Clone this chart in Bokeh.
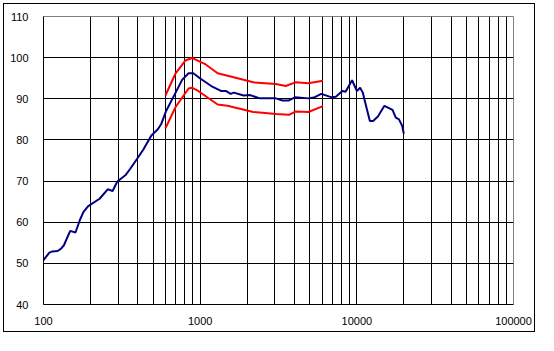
from bokeh.plotting import figure
from bokeh.models import Range1d, FixedTicker, PrintfTickFormatter
from bokeh.embed import file_html
from bokeh.resources import INLINE

# Blue response curve (frequency Hz, dB)
blue_freq = [100, 109, 114, 123, 129, 135, 148, 160, 171, 180, 193, 228, 257, 276, 296, 333, 358, 394, 433,
             488, 537, 563, 604, 697, 767, 843, 905, 996, 1177, 1357, 1458, 1566, 1641, 1893, 2084, 2403,
             3045, 3351, 3687, 4053, 4906, 5390, 5931, 6842, 7346, 8084, 8475, 9325, 10014, 10498, 10910,
             11550, 12110, 12694, 13632, 15002, 16890, 17730, 18580, 19480, 19960]
blue_db = [50.8, 52.6, 52.9, 53.0, 53.5, 54.4, 57.9, 57.5, 60.6, 62.5, 63.9, 65.7, 68.0, 67.6, 69.9, 71.4, 73.0,
           75.3, 77.6, 81.1, 82.6, 83.8, 86.9, 91.5, 94.6, 96.2, 96.2, 95.0, 93.1, 91.9, 91.9, 91.2, 91.5, 90.8,
           90.9, 90.1, 90.1, 89.6, 89.6, 90.4, 90.1, 90.4, 91.2, 90.4, 90.5, 91.9, 91.7, 94.5, 91.9, 92.7, 91.5,
           87.7, 84.6, 84.6, 85.7, 88.3, 87.3, 85.4, 85.0, 83.4, 81.5]

# Red upper tolerance
upper_freq = [600, 697, 804, 885, 927, 1069, 1293, 1566, 2183, 3045, 3513, 4053, 4906, 6075]
upper_db = [90.8, 96.2, 99.3, 99.9, 99.6, 98.5, 96.2, 95.4, 94.0, 93.6, 93.1, 94.0, 93.8, 94.4]

# Red lower tolerance
lower_freq = [600, 697, 843, 885, 972, 1293, 1492, 2183, 3045, 3687, 4053, 4906, 6075]
lower_db = [82.8, 88.0, 92.5, 92.7, 91.9, 88.6, 88.3, 86.8, 86.3, 86.1, 86.9, 86.8, 88.2]

x_ticks = [100, 1000, 10000, 100000]
y_ticks = [40, 50, 60, 70, 80, 90, 100, 110]
x_grid = [m * d for d in (100, 1000, 10000) for m in range(1, 10) if not (m == 1 and d == 100)]
y_grid = [50, 60, 70, 80, 90, 100]

W, H = 538, 335
p = figure(width=W, height=H, x_axis_type="log", output_backend="svg", toolbar_location=None,
           x_range=Range1d(100, 100000), y_range=Range1d(40, 110),
           min_border_left=43, min_border_top=16, min_border_right=25, min_border_bottom=31)
# outer black frame drawn by the host element behind a transparent border area
p.styles = {"background-color": "white",
            "box-shadow": "inset 0 0 0 3px white, inset 0 0 0 4px black"}

p.outline_line_color = "#808080"
p.background_fill_color = "white"
p.border_fill_alpha = 0

for ax in (p.xaxis[0], p.yaxis[0]):
    ax.axis_line_color = "black"
    ax.major_tick_line_color = None
    ax.minor_tick_line_color = None
    ax.major_label_text_font = "Liberation Sans"
    ax.major_label_text_font_size = "11px"
    ax.major_label_text_color = "black"

p.xaxis[0].ticker = FixedTicker(ticks=x_ticks, minor_ticks=[])
p.xaxis[0].formatter = PrintfTickFormatter(format="%d")
p.xaxis[0].major_label_standoff = 6
p.yaxis[0].ticker = FixedTicker(ticks=y_ticks, minor_ticks=[])
p.yaxis[0].major_label_standoff = 9

p.xgrid[0].ticker = FixedTicker(ticks=x_grid, minor_ticks=[])
p.ygrid[0].ticker = FixedTicker(ticks=y_grid, minor_ticks=[])
for g in (p.xgrid[0], p.ygrid[0]):
    g.grid_line_color = "black"
    g.grid_line_width = 1
    g.grid_line_alpha = 1

p.line(upper_freq, upper_db, line_color="#ff0000", line_width=2)
p.line(lower_freq, lower_db, line_color="#ff0000", line_width=2)
p.line(blue_freq, blue_db, line_color="#000080", line_width=2)

open("out.html", "w").write(file_html(p, INLINE))
